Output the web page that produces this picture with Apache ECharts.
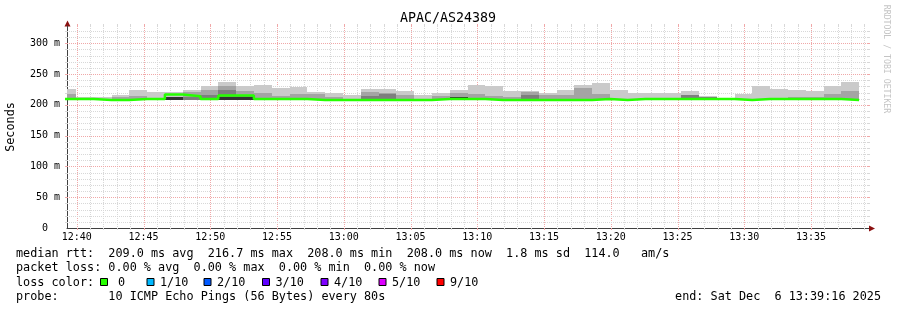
<!DOCTYPE html>
<html><head><meta charset="utf-8">
<script src="https://cdn.jsdelivr.net/npm/echarts@6/dist/echarts.min.js"></script>
<style>html,body{margin:0;padding:0;background:#fff}#c{width:897px;height:310px}</style>
</head><body><div id="c"></div>
<script>
// ---------- data ----------
const chartTitle = 'APAC/AS24389';
const yAxisName = 'Seconds';
const watermark = 'RRDTOOL / TOBI OETIKER';
const axisStart = '12:39:16';
const axisEnd = '13:39:16';
const firstStepStart = '12:38:36';   // sample period start of first (partially visible) step
const stepSeconds = 80;
const timeTickLabels = ['12:40','12:45','12:50','12:55','13:00','13:05','13:10','13:15','13:20','13:25','13:30','13:35'];
const yMax = 328;

// smoke: top of each ping band (ms), one value per 80 s step
const pingMax = [
  225.6, 212, 212, 216.4, 223.5, 221, 221, 224, 230, 237,
  231, 233, 227, 228.6, 221, 219, 216, 225.6, 225.6, 223,
  216, 219, 224, 232.5, 230, 223, 223, 220, 224, 232,
  235.5, 224, 219, 218.5, 219, 222.4, 214, 210, 218, 231,
  226, 224, 222, 230, 237
];
const ping9 = [
  218, null, null, 213, 215, null, null, 221, 224, 230,
  222, 219, 214, 217.5, 217.5, 212, null, 220.5, 220, 216.5,
  null, 214, 219.5, 217, 213.8, 213, 221, 216.4, 216.4, 228,
  218, null, null, null, null, 216, 213, null, null, null,
  null, 212.5, 212.5, 217.5, 222
];
const ping8 = [
  null, null, null, null, null, null, null, 212, 216, 224,
  216, null, null, null, null, null, null, 214, 218, null,
  null, null, null, null, null, null, 216, null, null, null,
  null, null, null, null, null, 216, 213, null, null, null,
  null, null, null, null, null
];
const ping6 = [
  null, null, null, null, null, null, 213.5, null, null, 213,
  213, null, null, null, null, null, null, null, null, null,
  null, null, 212, null, null, null, null, null, null, null,
  null, null, null, null, null, null, null, null, null, null,
  null, null, null, null, null
];
const pingLow = [
  208, 208, 208, 208, 208, 208, 208, 208, 208, 208,
  208, 208, 208, 208, 208, 208, 208, 208, 208, 208,
  208, 208, 208, 208, 208, 208, 208, 208, 208, 208,
  208, 208, 208, 208, 208, 208, 208, 208, 208, 208,
  208, 208, 208, 208, 208
];
const medianRtt = [
  209.3, 209.3, 208, 208, 209.3, 209.3, 216.7, 214, 209.3, 215,
  215, 209.3, 209.3, 209.3, 208, 208, 208, 208, 208, 208,
  208, 209.3, 209.3, 209.3, 208, 208, 208, 208, 208, 208,
  209.3, 208, 209.3, 209.3, 209.3, 209.3, 209.3, 209.3, 208, 209.3,
  209.3, 209.3, 209.3, 209.3, 208
];

const legendLines = [
  'median rtt:  209.0 ms avg  216.7 ms max  208.0 ms min  208.0 ms now  1.8 ms sd  114.0   am/s',
  'packet loss: 0.00 % avg  0.00 % max  0.00 % min  0.00 % now',
  'loss color:',
  'probe:       10 ICMP Echo Pings (56 Bytes) every 80s'
];
const endText = 'end: Sat Dec  6 13:39:16 2025';
const lossLabels = ['0','1/10','2/10','3/10','4/10','5/10','9/10'];
const lossColors = ['#26ff00','#00b8ff','#0059ff','#5e00ff','#7e00ff','#dd00ff','#ff0000'];

// ---------- helpers ----------
const toSec = s => { const p = s.split(':').map(Number); return p[0]*3600 + p[1]*60 + (p[2]||0); };
const fmtHM = sec => { const h = Math.floor(sec/3600), m = Math.floor((sec%3600)/60); return String(h).padStart(2,'0') + ':' + String(m).padStart(2,'0'); };
const stepStart = k => toSec(firstStepStart) + k*stepSeconds;

const bandColors = ['#cacaca','#a4a4a4','#7e7e7e','#323232'];
const bands = [pingMax, ping9, ping8, ping6];
const smokeData = [];
bands.forEach((tops, bi) => tops.forEach((top, k) => {
  if (top == null) return;
  smokeData.push([stepStart(k), stepStart(k) + stepSeconds, pingLow[k], top, bi]);
}));
const medianData = medianRtt.map((m, k) => [stepStart(k), m]);
medianData.push([stepStart(medianRtt.length), medianRtt[medianRtt.length-1]]);

const minuteLines = [];
for (let s = toSec('12:40:00'); s <= toSec(axisEnd); s += 60) minuteLines.push(s);
const msLines = [];
for (let v = 10; v < yMax; v += 10) msLines.push(v);
const gridData = minuteLines.map(v => [v, 0, 0]).concat(msLines.map(v => [toSec(axisStart), v, 1]));

const MAJOR = '#f0a8a8', MINOR = '#d8d8d8';
const MONO = '"DejaVu Sans Mono", monospace';
const LEG_FONT = '11.8px ' + MONO;

const chart = echarts.init(document.getElementById('c'), null, {renderer: 'canvas'});

const graphics = [
  {type:'text', x:448, y:19, style:{text:chartTitle, font:'13.3px ' + MONO, fill:'#000', align:'center', verticalAlign:'middle'}},
  {type:'text', x:11, y:127, rotation:Math.PI/2, style:{text:yAxisName, font:LEG_FONT, fill:'#000', align:'center', verticalAlign:'middle'}},
  {type:'text', x:886, y:59, rotation:-Math.PI/2, style:{text:watermark, font:'8.2px ' + MONO, fill:'#c4c4c4', align:'center', verticalAlign:'middle'}},
  {type:'line', shape:{x1:867, y1:228.5, x2:871, y2:228.5}, style:{stroke:'#404040', lineWidth:1}},
  {type:'polygon', shape:{points:[[64.5,26.5],[70.5,26.5],[67.5,20.5]]}, style:{fill:'#8b1010'}},
  {type:'polygon', shape:{points:[[869,225.5],[869,231.5],[875,228.5]]}, style:{fill:'#8b1010'}}
];
const rowY = [253.5, 268.3, 282.5, 296.5];
legendLines.forEach((t, i) => graphics.push({type:'text', x:16, y:rowY[i], style:{text:t, font:LEG_FONT, fill:'#000', align:'left', verticalAlign:'middle'}}));
graphics.push({type:'text', x:881, y:rowY[3], style:{text:endText, font:LEG_FONT, fill:'#000', align:'right', verticalAlign:'middle'}});
const boxX = [100, 146.5, 203.5, 262, 320.5, 378.5, 436.5];
lossLabels.forEach((lab, i) => {
  graphics.push({type:'rect', shape:{x:boxX[i]+0.5, y:278.5, width:7, height:7}, style:{fill:lossColors[i], stroke:'#000', lineWidth:1}});
  graphics.push({type:'text', x:boxX[i] + (i === 0 ? 18 : 13.5), y:rowY[2], style:{text:lab, font:LEG_FONT, fill:'#000', align:'left', verticalAlign:'middle'}});
});

chart.setOption({
  animation: false,
  backgroundColor: '#ffffff',
  grid: {left: 67, right: 29, top: 26, bottom: 82, containLabel: false, outerBoundsMode: 'none'},
  xAxis: {
    type: 'value', min: toSec(axisStart), max: toSec(axisEnd),
    axisLine: {show: true, lineStyle: {color: '#404040', width: 1}},
    axisTick: {show: false},
    splitLine: {show: false},
    axisLabel: {
      customValues: timeTickLabels.map(toSec),
      formatter: v => fmtHM(v),
      fontFamily: 'DejaVu Sans Mono', fontSize: 10, color: '#000', margin: 4
    }
  },
  yAxis: {
    type: 'value', min: 0, max: yMax, interval: 10,
    axisLine: {show: true, lineStyle: {color: '#404040', width: 1}},
    axisTick: {show: false},
    splitLine: {show: false},
    axisLabel: {
      interval: 0,
      formatter: v => (v === 0 ? '0  ' : (v % 50 === 0 ? v + ' m' : '')),
      fontFamily: 'DejaVu Sans Mono', fontSize: 10, color: '#000', margin: 7
    }
  },
  graphic: graphics,
  series: [
    {
      type: 'custom', name: 'grid', coordinateSystem: 'cartesian2d', clip: false, z: 1, silent: true,
      data: gridData, encode: {x: 0, y: 1},
      renderItem(params, api) {
        const v0 = api.value(0), v1 = api.value(1), vertical = api.value(2) === 0;
        if (vertical) {
          const top = api.coord([v0, yMax]), bot = api.coord([v0, 0]);
          const x = Math.round(top[0]) + 0.5, yt = Math.round(top[1]), yb = Math.round(bot[1]);
          const c = (v0 % 300 === 0) ? MAJOR : MINOR;
          return {type: 'group', children: [
            {type: 'line', shape: {x1: x, y1: yt, x2: x, y2: yb}, style: {stroke: c, lineWidth: 1, lineDash: [1, 1]}},
            {type: 'line', shape: {x1: x, y1: yb, x2: x, y2: yb + 2}, style: {stroke: c, lineWidth: 1}},
            {type: 'line', shape: {x1: x, y1: yt - 2, x2: x, y2: yt}, style: {stroke: c, lineWidth: 1}}
          ]};
        }
        const l = api.coord([toSec(axisStart), v1]), r = api.coord([toSec(axisEnd), v1]);
        const y = Math.round(l[1]) + 0.5, xl = Math.round(l[0]), xr = Math.round(r[0]);
        const c = (v1 % 50 === 0) ? MAJOR : MINOR;
        return {type: 'group', children: [
          {type: 'line', shape: {x1: xl, y1: y, x2: xr, y2: y}, style: {stroke: c, lineWidth: 1, lineDash: [1, 1]}},
          {type: 'line', shape: {x1: xl - 2, y1: y, x2: xl, y2: y}, style: {stroke: c, lineWidth: 1}},
          {type: 'line', shape: {x1: xr, y1: y, x2: xr + 2, y2: y}, style: {stroke: c, lineWidth: 1}}
        ]};
      }
    },
    {
      type: 'custom', name: 'smoke', coordinateSystem: 'cartesian2d', clip: true, z: 2,
      data: smokeData, encode: {x: [0, 1], y: [2, 3]},
      renderItem(params, api) {
        const cs = params.coordSys;
        const a = api.coord([api.value(0), api.value(3)]);
        const b = api.coord([api.value(1), api.value(2)]);
        const x0 = Math.max(Math.round(a[0]), cs.x), x1 = Math.min(Math.round(b[0]), cs.x + cs.width);
        const y0 = Math.round(a[1]), y1 = Math.round(b[1]);
        if (x1 <= x0) return null;
        return {type: 'rect', shape: {x: x0, y: y0, width: x1 - x0, height: y1 - y0}, style: {fill: bandColors[api.value(4)]}};
      }
    },
    {
      type: 'line', name: 'median rtt', data: medianData, step: 'end', showSymbol: false, clip: true, z: 4,
      lineStyle: {color: '#26ff00', width: 2.5}, silent: true
    }
  ]
});
</script>
</body></html>
